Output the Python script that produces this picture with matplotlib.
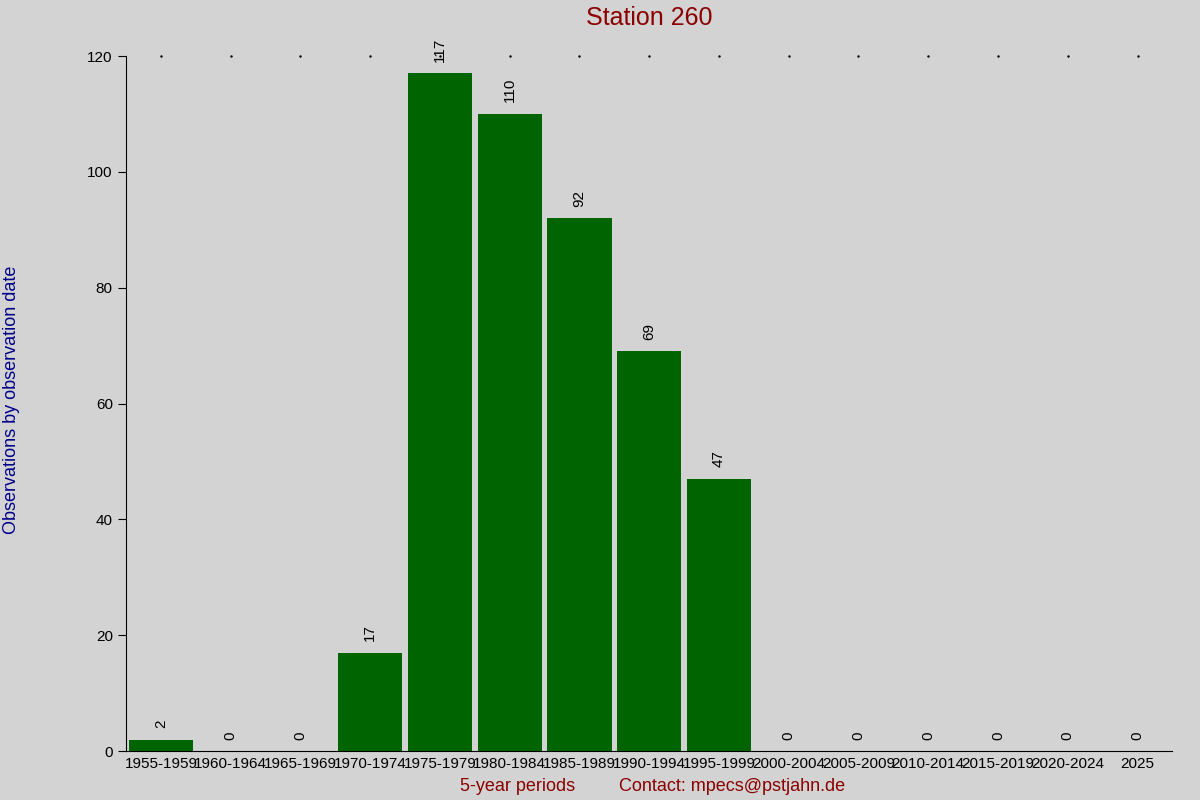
import matplotlib
matplotlib.use("Agg")
from matplotlib import pyplot as plt

periods = ['1955-1959', '1960-1964', '1965-1969', '1970-1974', '1975-1979',
           '1980-1984', '1985-1989', '1990-1994', '1995-1999', '2000-2004',
           '2005-2009', '2010-2014', '2015-2019', '2020-2024', '2025']
counts = [2, 0, 0, 17, 117, 110, 92, 69, 47, 0, 0, 0, 0, 0, 0]

plt.rcParams['font.family'] = ['Liberation Sans', 'DejaVu Sans']
bg = '#d3d3d3'
fig = plt.figure(figsize=(12, 8), dpi=100, facecolor=bg)
ax = fig.add_axes([0.105, 0.061, 0.872, 0.869], facecolor=bg)

x = range(len(periods))
ax.bar(x, counts, width=0.92, color='#006400')
for i, c in zip(x, counts):
    ax.text(i, c + 2, str(c), rotation=90, ha='center', va='bottom', fontsize=11)

ax.set_xlim(-0.5, len(periods) - 0.5)
ax.set_ylim(0, 120)
ax.set_xticks(list(x))
ax.set_xticklabels(periods, fontsize=11)
ax.set_yticks(range(0, 121, 20))
ax.tick_params(axis='y', labelsize=11, direction='out', length=6)
ax.tick_params(axis='x', length=0, pad=4)
for i in x:
    ax.plot(i, 120, marker='.', markersize=1.5, color='black', clip_on=False)
ax.spines['top'].set_visible(False)
ax.spines['right'].set_visible(False)

fig.text(0.541, 0.978, 'Station 260', color='#8b0000', fontsize=18, ha='center', va='center')
fig.text(0.431, 0.017, '5-year periods', color='#8b0000', fontsize=13, ha='center', va='center')
fig.text(0.61, 0.017, 'Contact: mpecs@pstjahn.de', color='#8b0000', fontsize=13, ha='center', va='center')
fig.text(0.01, 0.5, 'Observations by observation date', color='#00008b', fontsize=13,
         rotation=90, ha='center', va='center')

fig.savefig('out.png', dpi=100, facecolor=bg)
